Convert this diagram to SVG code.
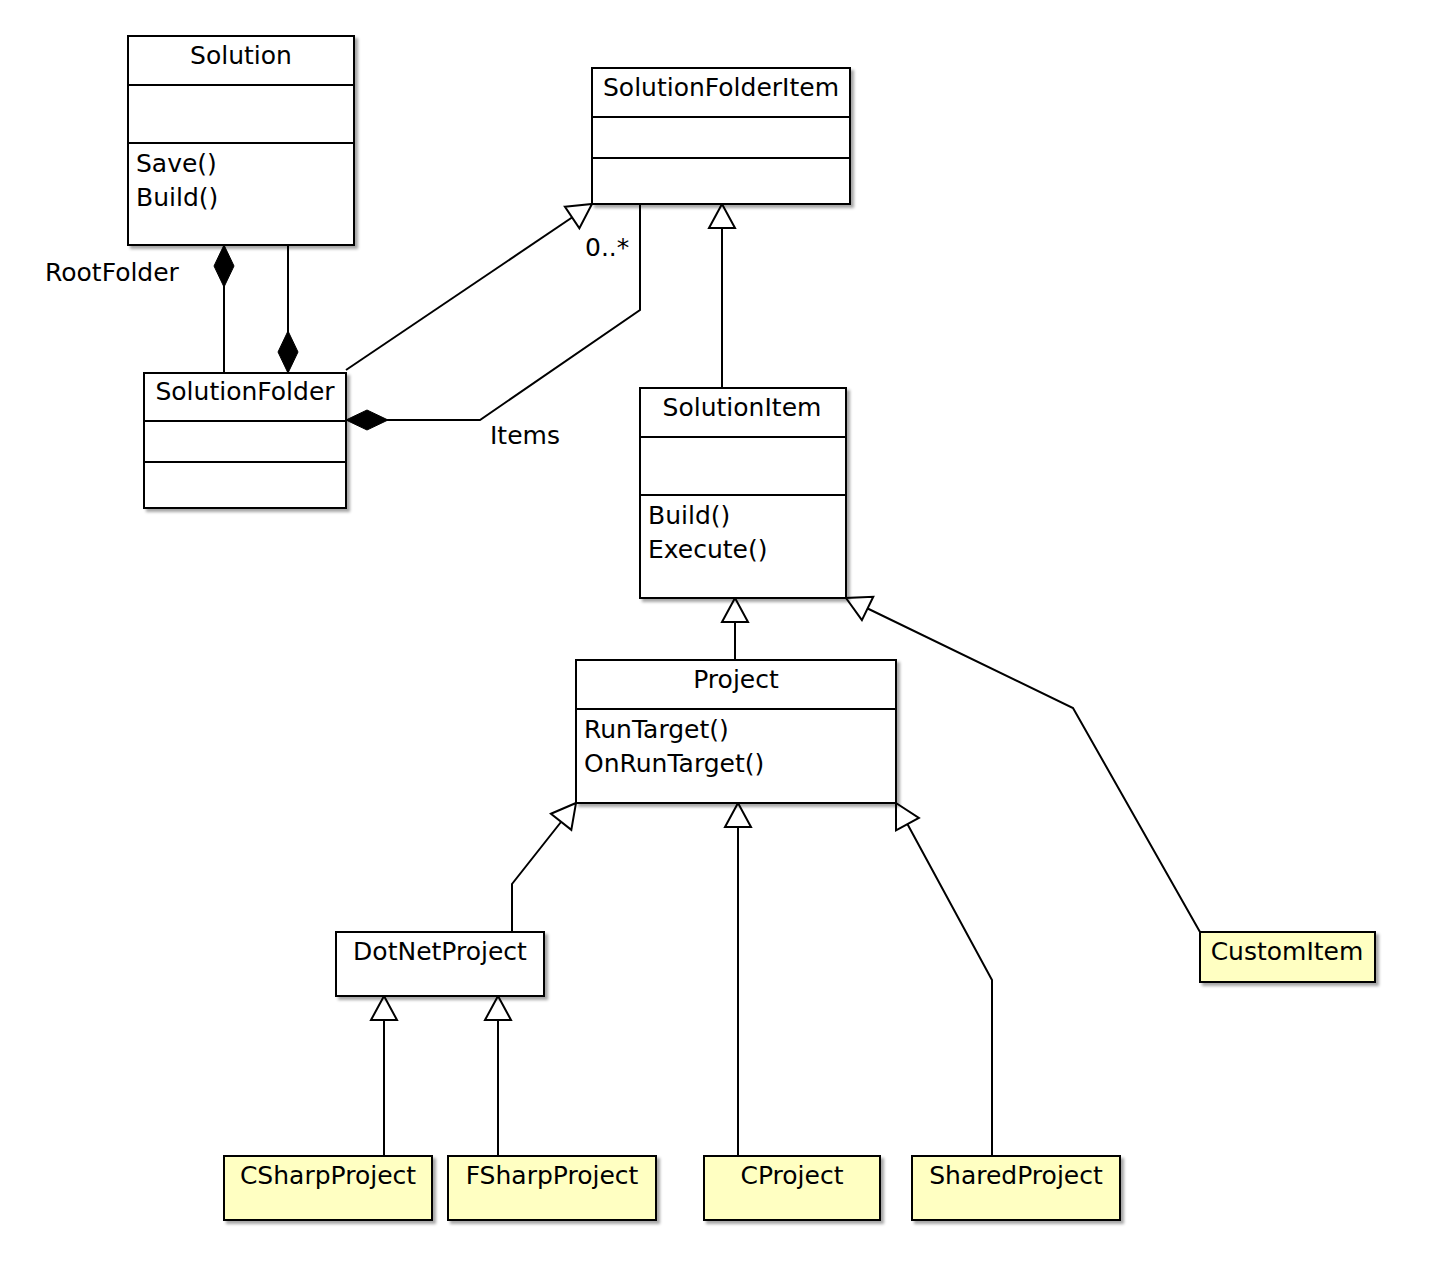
<svg xmlns="http://www.w3.org/2000/svg" width="1440" height="1268" viewBox="0 0 1440 1268">
<style>
.box{fill:#fff;stroke:#000;stroke-width:2}
.yel{fill:#ffffc2;stroke:#000;stroke-width:2}
.div{stroke:#000;stroke-width:2}
.t{font-family:"DejaVu Sans",sans-serif;font-size:25px;fill:#000}
.c{text-anchor:middle}
.ln{fill:none;stroke:#000;stroke-width:2}
.gen{marker-end:url(#tri)}
.comp{marker-start:url(#dia)}
</style>
<defs>
<filter id="sh" x="-10%" y="-10%" width="130%" height="130%">
<feDropShadow dx="3" dy="3" stdDeviation="1.5" flood-color="#000" flood-opacity="0.35"/>
</filter>
<marker id="tri" markerUnits="userSpaceOnUse" viewBox="0 0 28 30" markerWidth="28" markerHeight="30" refX="26" refY="15" orient="auto">
<path d="M2,2 L26,15 L2,28 Z" fill="#fff" stroke="#000" stroke-width="2"/>
</marker>
<marker id="dia" markerUnits="userSpaceOnUse" viewBox="0 0 44 22" markerWidth="44" markerHeight="22" refX="1" refY="11" orient="auto">
<path d="M1,11 L22,1 L43,11 L22,21 Z" fill="#000" stroke="#000" stroke-width="1"/>
</marker>
</defs>

<g id="connectors">
<path class="ln comp" d="M224,245 L224,373"/>
<path class="ln comp" d="M288,373 L288,244"/>
<path class="ln gen" d="M346,370 L592,204"/>
<path class="ln comp" d="M346,420 L480,420 L640,310 L640,204"/>
<path class="ln gen" d="M722,388 L722,204"/>
<path class="ln gen" d="M735,660 L735,598"/>
<path class="ln gen" d="M1200,932 L1073,708 L846,598"/>
<path class="ln gen" d="M512,932 L512,884 L576,803"/>
<path class="ln gen" d="M738,1156 L738,803"/>
<path class="ln gen" d="M992,1156 L992,980 L896,803"/>
<path class="ln gen" d="M384,1156 L384,996"/>
<path class="ln gen" d="M498,1156 L498,996"/>
<text class="t" x="45" y="281">RootFolder</text>
<text class="t" x="585" y="256">0..*</text>
<text class="t" x="490" y="444">Items</text>
</g>

<g id="Solution">
<rect class="box" x="128" y="36" width="226" height="209" filter="url(#sh)"/>
<line class="div" x1="128" y1="85" x2="354" y2="85"/>
<line class="div" x1="128" y1="143" x2="354" y2="143"/>
<text class="t c" x="241" y="64">Solution</text>
<text class="t" x="136" y="172">Save()</text>
<text class="t" x="136" y="206">Build()</text>
</g>

<g id="SolutionFolderItem">
<rect class="box" x="592" y="68" width="258" height="136" filter="url(#sh)"/>
<line class="div" x1="592" y1="117" x2="850" y2="117"/>
<line class="div" x1="592" y1="158" x2="850" y2="158"/>
<text class="t c" x="721" y="96">SolutionFolderItem</text>
</g>

<g id="SolutionFolder">
<rect class="box" x="144" y="373" width="202" height="135" filter="url(#sh)"/>
<line class="div" x1="144" y1="421" x2="346" y2="421"/>
<line class="div" x1="144" y1="462" x2="346" y2="462"/>
<text class="t c" x="245" y="400">SolutionFolder</text>
</g>

<g id="SolutionItem">
<rect class="box" x="640" y="388" width="206" height="210" filter="url(#sh)"/>
<line class="div" x1="640" y1="437" x2="846" y2="437"/>
<line class="div" x1="640" y1="495" x2="846" y2="495"/>
<text class="t c" x="742" y="416">SolutionItem</text>
<text class="t" x="648" y="524">Build()</text>
<text class="t" x="648" y="558">Execute()</text>
</g>

<g id="Project">
<rect class="box" x="576" y="660" width="320" height="143" filter="url(#sh)"/>
<line class="div" x1="576" y1="709" x2="896" y2="709"/>
<text class="t c" x="736" y="688">Project</text>
<text class="t" x="584" y="738">RunTarget()</text>
<text class="t" x="584" y="772">OnRunTarget()</text>
</g>

<g id="DotNetProject">
<rect class="box" x="336" y="932" width="208" height="64" filter="url(#sh)"/>
<text class="t c" x="440" y="960">DotNetProject</text>
</g>

<g id="CustomItem">
<rect class="yel" x="1200" y="932" width="175" height="50" filter="url(#sh)"/>
<text class="t c" x="1287" y="960">CustomItem</text>
</g>

<g id="CSharpProject">
<rect class="yel" x="224" y="1156" width="208" height="64" filter="url(#sh)"/>
<text class="t c" x="328" y="1184">CSharpProject</text>
</g>

<g id="FSharpProject">
<rect class="yel" x="448" y="1156" width="208" height="64" filter="url(#sh)"/>
<text class="t c" x="552" y="1184">FSharpProject</text>
</g>

<g id="CProject">
<rect class="yel" x="704" y="1156" width="176" height="64" filter="url(#sh)"/>
<text class="t c" x="792" y="1184">CProject</text>
</g>

<g id="SharedProject">
<rect class="yel" x="912" y="1156" width="208" height="64" filter="url(#sh)"/>
<text class="t c" x="1016" y="1184">SharedProject</text>
</g>
</svg>
